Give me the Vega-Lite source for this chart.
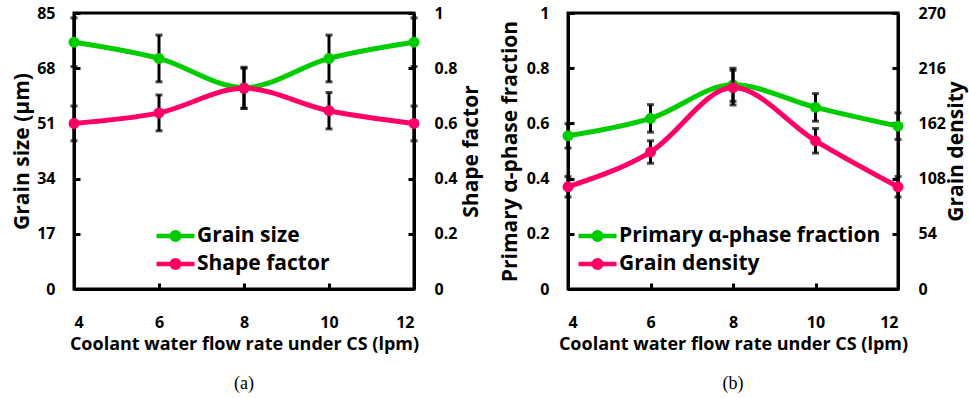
{
  "$schema": "https://vega.github.io/schema/vega-lite/v6.json",
  "background": "white",
  "padding": {"left": 10, "top": 3, "right": 3, "bottom": 3},
  "datasets": {
    "a": [
      {"x": 4, "gs": 76, "gs_lo": 68.5, "gs_hi": 83.5, "sf": 0.6, "sf_lo": 0.537, "sf_hi": 0.663},
      {"x": 6, "gs": 71, "gs_lo": 63.8, "gs_hi": 78.2, "sf": 0.638, "sf_lo": 0.573, "sf_hi": 0.703},
      {"x": 8, "gs": 62, "gs_lo": 55.7, "gs_hi": 68.3, "sf": 0.727, "sf_lo": 0.654, "sf_hi": 0.8},
      {"x": 10, "gs": 71, "gs_lo": 63.8, "gs_hi": 78.2, "sf": 0.646, "sf_lo": 0.58, "sf_hi": 0.712},
      {"x": 12, "gs": 76, "gs_lo": 68.5, "gs_hi": 83.5, "sf": 0.6, "sf_lo": 0.537, "sf_hi": 0.663}
    ],
    "b": [
      {"x": 4, "pf": 0.555, "pf_lo": 0.511, "pf_hi": 0.599, "gd": 100, "gd_lo": 90, "gd_hi": 110},
      {"x": 6, "pf": 0.618, "pf_lo": 0.568, "pf_hi": 0.668, "gd": 134, "gd_lo": 123, "gd_hi": 145},
      {"x": 8, "pf": 0.74, "pf_lo": 0.68, "pf_hi": 0.8, "gd": 197, "gd_lo": 180, "gd_hi": 214},
      {"x": 10, "pf": 0.658, "pf_lo": 0.608, "pf_hi": 0.708, "gd": 145, "gd_lo": 133, "gd_hi": 157},
      {"x": 12, "pf": 0.59, "pf_lo": 0.542, "pf_hi": 0.638, "gd": 100, "gd_lo": 90, "gd_hi": 110}
    ]
  },
  "bounds": "flush",
  "spacing": 154,
  "hconcat": [
    {
      "data": {"name": "a"},
      "width": 340,
      "height": 276,
      "title": {"text": "(a)", "orient": "bottom", "anchor": "middle", "frame": "group", "font": "Liberation Serif", "fontSize": 18, "fontWeight": "normal", "color": "black", "offset": 22},
      "encoding": {
        "x": {"field": "x", "type": "quantitative", "scale": {"domain": [4, 12], "nice": false, "zero": false},
              "axis": {"values": [4, 6, 8, 10, 12], "format": "d", "title": "Coolant water flow rate under CS (lpm)", "labelPadding": 31, "titlePadding": 5}}
      },
      "layer": [
        {
          "layer": [
            {"mark": {"type": "errorbar", "ticks": true, "size": 7, "thickness": 3, "color": "black"},
             "encoding": {"y": {"field": "gs_lo", "type": "quantitative", "scale": {"domain": [0, 85]},
                     "axis": {"orient": "left", "values": [0, 17, 34, 51, 68, 85], "title": "Grain size (μm)", "labelPadding": 25, "titlePadding": 4}}, "y2": {"field": "gs_hi"}}},
            {"mark": {"type": "line", "interpolate": "monotone", "strokeWidth": 5},
             "encoding": {
               "y": {"field": "gs", "type": "quantitative", "scale": {"domain": [0, 85]},
                     "axis": {"orient": "left", "values": [0, 17, 34, 51, 68, 85], "title": "Grain size (μm)", "labelPadding": 25, "titlePadding": 4}},
               "color": {"datum": "Grain size", "type": "nominal", "scale": {"domain": ["Grain size", "Shape factor"], "range": ["#00CC00", "#FF0066"]},
                         "legend": {"orient": "none", "legendX": 80, "legendY": 210, "title": null}}
             }},
            {"mark": {"type": "point", "filled": true, "size": 120, "opacity": 1, "color": "#00CC00"},
             "encoding": {"y": {"field": "gs", "type": "quantitative", "scale": {"domain": [0, 85]},
                     "axis": {"orient": "left", "values": [0, 17, 34, 51, 68, 85], "title": "Grain size (μm)", "labelPadding": 25, "titlePadding": 4}}}}
          ]
        },
        {
          "layer": [
            {"mark": {"type": "errorbar", "ticks": true, "size": 7, "thickness": 3, "color": "black"},
             "encoding": {"y": {"field": "sf_lo", "type": "quantitative", "scale": {"domain": [0, 1]},
                     "axis": {"orient": "right", "values": [0, 0.2, 0.4, 0.6, 0.8, 1], "format": "~g", "title": "Shape factor", "titleAngle": 270, "titleBaseline": "top", "labelPadding": 26, "titlePadding": 4}}, "y2": {"field": "sf_hi"}}},
            {"mark": {"type": "line", "interpolate": "monotone", "strokeWidth": 5},
             "encoding": {
               "y": {"field": "sf", "type": "quantitative", "scale": {"domain": [0, 1]},
                     "axis": {"orient": "right", "values": [0, 0.2, 0.4, 0.6, 0.8, 1], "format": "~g", "title": "Shape factor", "titleAngle": 270, "titleBaseline": "top", "labelPadding": 26, "titlePadding": 4}},
               "color": {"datum": "Shape factor", "type": "nominal", "scale": {"domain": ["Grain size", "Shape factor"], "range": ["#00CC00", "#FF0066"]},
                         "legend": {"orient": "none", "legendX": 80, "legendY": 210, "title": null}}
             }},
            {"mark": {"type": "point", "filled": true, "size": 120, "opacity": 1, "color": "#FF0066"},
             "encoding": {"y": {"field": "sf", "type": "quantitative", "scale": {"domain": [0, 1]},
                     "axis": {"orient": "right", "values": [0, 0.2, 0.4, 0.6, 0.8, 1], "format": "~g", "title": "Shape factor", "titleAngle": 270, "titleBaseline": "top", "labelPadding": 26, "titlePadding": 4}}}}
          ]
        }
      ],
      "resolve": {"scale": {"y": "independent"}}
    },
    {
      "data": {"name": "b"},
      "width": 330,
      "height": 276,
      "title": {"text": "(b)", "orient": "bottom", "anchor": "middle", "frame": "group", "font": "Liberation Serif", "fontSize": 18, "fontWeight": "normal", "color": "black", "offset": 22},
      "encoding": {
        "x": {"field": "x", "type": "quantitative", "scale": {"domain": [4, 12], "nice": false, "zero": false},
              "axis": {"values": [4, 6, 8, 10, 12], "format": "d", "title": "Coolant water flow rate under CS (lpm)", "labelPadding": 31, "titlePadding": 5}}
      },
      "layer": [
        {
          "layer": [
            {"mark": {"type": "errorbar", "ticks": true, "size": 7, "thickness": 3, "color": "black"},
             "encoding": {"y": {"field": "pf_lo", "type": "quantitative", "scale": {"domain": [0, 1]},
                     "axis": {"orient": "left", "values": [0, 0.2, 0.4, 0.6, 0.8, 1], "format": "~g", "title": "Primary α-phase fraction", "labelPadding": 25, "titlePadding": 6}}, "y2": {"field": "pf_hi"}}},
            {"mark": {"type": "line", "interpolate": "monotone", "strokeWidth": 5},
             "encoding": {
               "y": {"field": "pf", "type": "quantitative", "scale": {"domain": [0, 1]},
                     "axis": {"orient": "left", "values": [0, 0.2, 0.4, 0.6, 0.8, 1], "format": "~g", "title": "Primary α-phase fraction", "labelPadding": 25, "titlePadding": 6}},
               "color": {"datum": "Primary α-phase fraction", "type": "nominal", "scale": {"domain": ["Primary α-phase fraction", "Grain density"], "range": ["#00CC00", "#FF0066"]},
                         "legend": {"orient": "none", "legendX": 8, "legendY": 210, "title": null}}
             }},
            {"mark": {"type": "point", "filled": true, "size": 120, "opacity": 1, "color": "#00CC00"},
             "encoding": {"y": {"field": "pf", "type": "quantitative", "scale": {"domain": [0, 1]},
                     "axis": {"orient": "left", "values": [0, 0.2, 0.4, 0.6, 0.8, 1], "format": "~g", "title": "Primary α-phase fraction", "labelPadding": 25, "titlePadding": 6}}}}
          ]
        },
        {
          "layer": [
            {"mark": {"type": "errorbar", "ticks": true, "size": 7, "thickness": 3, "color": "black"},
             "encoding": {"y": {"field": "gd_lo", "type": "quantitative", "scale": {"domain": [0, 270]},
                     "axis": {"orient": "right", "values": [0, 54, 108, 162, 216, 270], "format": "d", "title": "Grain density", "titleAngle": 270, "titleBaseline": "top", "labelPadding": 26, "titlePadding": 0}}, "y2": {"field": "gd_hi"}}},
            {"mark": {"type": "line", "interpolate": "monotone", "strokeWidth": 5},
             "encoding": {
               "y": {"field": "gd", "type": "quantitative", "scale": {"domain": [0, 270]},
                     "axis": {"orient": "right", "values": [0, 54, 108, 162, 216, 270], "format": "d", "title": "Grain density", "titleAngle": 270, "titleBaseline": "top", "labelPadding": 26, "titlePadding": 0}},
               "color": {"datum": "Grain density", "type": "nominal", "scale": {"domain": ["Primary α-phase fraction", "Grain density"], "range": ["#00CC00", "#FF0066"]},
                         "legend": {"orient": "none", "legendX": 8, "legendY": 210, "title": null}}
             }},
            {"mark": {"type": "point", "filled": true, "size": 120, "opacity": 1, "color": "#FF0066"},
             "encoding": {"y": {"field": "gd", "type": "quantitative", "scale": {"domain": [0, 270]},
                     "axis": {"orient": "right", "values": [0, 54, 108, 162, 216, 270], "format": "d", "title": "Grain density", "titleAngle": 270, "titleBaseline": "top", "labelPadding": 26, "titlePadding": 0}}}}
          ]
        }
      ],
      "resolve": {"scale": {"y": "independent"}}
    }
  ],
  "resolve": {"scale": {"color": "independent"}, "legend": {"color": "independent"}},
  "config": {
    "view": {"stroke": "black", "strokeWidth": 3},
    "font": "Open Sans",
    "axis": {
      "domainColor": "black", "domainWidth": 3, "tickColor": "black", "tickWidth": 3, "tickSize": -6,
      "grid": false, "labelFont": "Open Sans", "labelFontWeight": "bold", "labelFontSize": 16, "labelColor": "black",
      "titleFont": "Open Sans", "titleFontWeight": "bold", "titleFontSize": 21, "titleColor": "black"
    },
    "axisX": {"titleFontSize": 18},
    "legend": {
      "labelFont": "Open Sans", "labelFontWeight": "bold", "labelFontSize": 21, "labelColor": "black", "labelLimit": 400,
      "symbolType": "M-1,0H1M-0.2,0A0.2,0.2,0,1,1,0.2,0A0.2,0.2,0,1,1,-0.2,0M-0.08,0A0.08,0.08,0,1,1,0.08,0A0.08,0.08,0,1,1,-0.08,0",
      "symbolSize": 1444, "symbolStrokeWidth": 4.5, "labelOffset": 0, "clipHeight": 26, "rowPadding": 2
    }
  }
}
